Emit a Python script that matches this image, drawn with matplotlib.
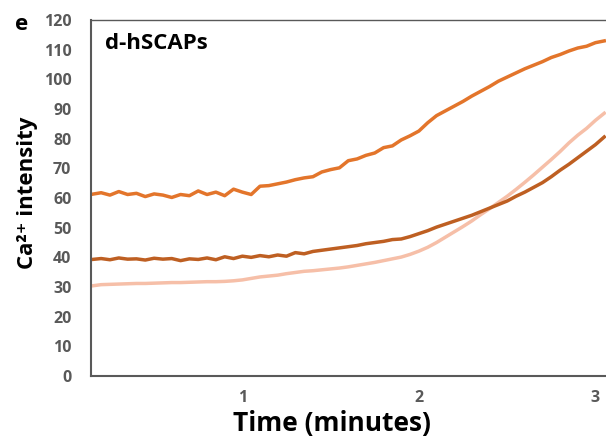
import numpy as np
import matplotlib
matplotlib.use("Agg")
import matplotlib.pyplot as plt

plt.rcParams['font.family'] = ['Open Sans', 'DejaVu Sans']
plt.rcParams['font.weight'] = 'bold'

# time grid (minutes)
t = np.round(np.arange(0.15, 3.051, 0.05), 2)

top = [61.3, 61.8, 61.0, 62.2, 61.2, 61.6, 60.5, 61.4, 61.0, 60.2,
       61.2, 60.8, 62.4, 61.2, 62.0, 60.8, 63.0, 62.0, 61.2, 64.0,
       64.2, 64.8, 65.4, 66.2, 66.8, 67.2, 68.8, 69.6, 70.2, 72.6,
       73.2, 74.4, 75.2, 77.0, 77.6, 79.6, 81.0, 82.6, 85.4, 87.8,
       89.4, 91.0, 92.6, 94.4, 96.0, 97.6, 99.4, 100.8, 102.2, 103.6,
       104.8, 106.0, 107.4, 108.4, 109.6, 110.6, 111.2, 112.4, 113.0]

mid = [39.3, 39.6, 39.2, 39.8, 39.4, 39.5, 39.1, 39.7, 39.4, 39.6,
       38.9, 39.5, 39.3, 39.8, 39.2, 40.2, 39.6, 40.4, 40.0, 40.6,
       40.2, 40.8, 40.4, 41.6, 41.2, 42.0, 42.4, 42.8, 43.2, 43.6,
       44.0, 44.6, 45.0, 45.4, 46.0, 46.2, 47.0, 48.0, 49.0, 50.2,
       51.2, 52.2, 53.2, 54.2, 55.4, 56.6, 57.8, 59.0, 60.6, 62.0,
       63.6, 65.2, 67.2, 69.4, 71.4, 73.6, 75.8, 78.0, 80.6]

low = [30.4, 30.8, 30.9, 31.0, 31.1, 31.2, 31.2, 31.3, 31.4, 31.5,
       31.5, 31.6, 31.7, 31.8, 31.8, 31.9, 32.1, 32.4, 32.9, 33.4,
       33.7, 34.0, 34.5, 34.9, 35.3, 35.5, 35.8, 36.1, 36.4, 36.8,
       37.3, 37.8, 38.3, 38.9, 39.5, 40.1, 41.0, 42.1, 43.4, 45.0,
       46.8, 48.6, 50.4, 52.3, 54.4, 56.4, 58.5, 60.6, 62.9, 65.3,
       67.8, 70.4, 73.0, 75.7, 78.6, 81.2, 83.5, 86.2, 88.6]

fig = plt.figure(figsize=(6.06, 4.38), dpi=100)
ax = fig.add_axes([0.150, 0.1416, 0.850, 0.8124])

ax.plot(t, low, color='#F6BFA8', lw=2.5)
ax.plot(t, mid, color='#BE5F22', lw=2.5)
ax.plot(t, top, color='#E3752B', lw=2.5)

ax.set_xlim(0.142, 3.06)
ax.set_ylim(0, 120)
ax.set_yticks(range(0, 121, 10))
ax.set_xticks([1, 2, 3])
ax.tick_params(length=0, labelsize=11.5, labelcolor='#595959')
ax.tick_params(axis='y', pad=14)
ax.tick_params(axis='x', pad=10)
for lab in ax.get_xticklabels() + ax.get_yticklabels():
    lab.set_fontweight('bold')

for s in ['left', 'bottom']:
    ax.spines[s].set_color('#595959')
    ax.spines[s].set_linewidth(1.5)
ax.spines['top'].set_color('#595959')
ax.spines['top'].set_linewidth(1.0)
ax.spines['right'].set_visible(False)

fig.text(332 / 606, 1 - 423 / 438, 'Time (minutes)', fontsize=19,
         fontweight='bold', ha='center', va='center')
fig.text(28 / 606, 1 - 193 / 438, 'Ca²⁺ intensity', fontsize=16,
         fontweight='bold', ha='center', va='center', rotation=90)
ax.text(0.027, 0.965, 'd-hSCAPs', transform=ax.transAxes, fontsize=16,
        fontweight='bold', va='top', ha='left')
fig.text(0.036, 1 - 24 / 438, 'e', fontsize=16, fontweight='bold',
         ha='center', va='center')

fig.savefig('out.png', dpi=100)
